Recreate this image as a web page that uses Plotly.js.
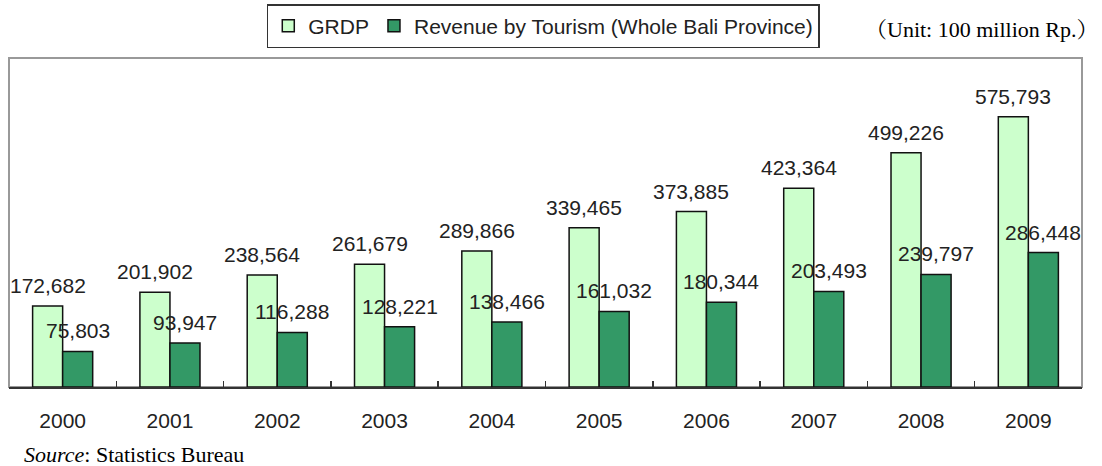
<!DOCTYPE html>
<html>
<head>
<meta charset="utf-8">
<script src="https://cdn.plot.ly/plotly-3.0.1.min.js"></script>
<style>html,body{margin:0;padding:0;background:#fff;}#chart{width:1102px;height:466px;}</style>
</head>
<body>
<div id="chart"></div>
<script>
const years = ["2000","2001","2002","2003","2004","2005","2006","2007","2008","2009"];
const grdp = [172682, 201902, 238564, 261679, 289866, 339465, 373885, 423364, 499226, 575793];
const tourism = [75803, 93947, 116288, 128221, 138466, 161032, 180344, 203493, 239797, 286448];
const seriesNames = ["GRDP", "Revenue by Tourism (Whole Bali Province)"];
const unitText = "（Unit: 100 million Rp.）";
const sourceText = "<i>Source</i>: Statistics Bureau";

const gothic = "Liberation Sans, Arial, sans-serif";
const serif = "Liberation Serif, Times New Roman, Noto Serif CJK JP, serif";

const fmt = v => v.toLocaleString('en-US');

const traces = [
  {type:'bar', name: seriesNames[0], x: years, y: grdp,
   marker:{color:'#ccffcc', line:{color:'#111', width:1.5}}, hoverinfo:'x+y'},
  {type:'bar', name: seriesNames[1], x: years, y: tourism,
   marker:{color:'#339966', line:{color:'#111', width:1.5}}, hoverinfo:'x+y'}
];

const annotations = [];
years.forEach((yr, i) => {
  annotations.push({x: i, y: grdp[i], xref:'x', yref:'y', text: fmt(grdp[i]), showarrow:false,
    xshift:-15, yshift:7, yanchor:'bottom', font:{family:gothic, size:21, color:'#222'}});
  annotations.push({x: i, y: tourism[i], xref:'x', yref:'y', text: fmt(tourism[i]), showarrow:false,
    xshift:15, yshift:7, yanchor:'bottom', font:{family:gothic, size:21, color:'#222'}});
});
annotations.push({xref:'paper', yref:'paper', x:1.0168, y:1.088, xanchor:'right', yanchor:'middle',
  text: unitText, showarrow:false, font:{family:serif, size:22, color:'#000'}});
annotations.push({xref:'paper', yref:'paper', x:0.012, y:-0.205, xanchor:'left', yanchor:'middle',
  text: sourceText, showarrow:false, font:{family:serif, size:22, color:'#000'}});

const layout = {
  width:1102, height:466,
  margin:{l:9, r:20, t:58, b:78.5, pad:0},
  paper_bgcolor:'#fff', plot_bgcolor:'#fff',
  barmode:'group', bargap:0.44, bargroupgap:0,
  showlegend:true,
  legend:{orientation:'h', xref:'container', yref:'container', x:0.493, y:0.991,
    xanchor:'center', yanchor:'top', bordercolor:'#333', borderwidth:1.5, bgcolor:'#fff',
    font:{family:gothic, size:21, color:'#222'}, itemclick:false, itemdoubleclick:false,
    traceorder:'normal'},
  xaxis:{type:'category', categoryorder:'array', categoryarray:years, range:[-0.5, 9.5], autorange:false,
    showgrid:false, zeroline:false, showline:true, linecolor:'#333', linewidth:2, tickangle:0,
    ticks:'inside', tickson:'boundaries', ticklen:6, tickwidth:1.5, tickcolor:'#333',
    ticklabelstandoff:14, tickfont:{family:gothic, size:21, color:'#222'}, fixedrange:true},
  yaxis:{range:[0,701000], autorange:false, showgrid:false, zeroline:false, showline:false, showticklabels:false,
    ticks:'', fixedrange:true},
  shapes:[{type:'rect', xref:'paper', yref:'paper', x0:0, x1:1, y0:0, y1:1,
    line:{color:'#999', width:2}, layer:'below'}],
  annotations: annotations
};

Plotly.newPlot('chart', traces, layout, {displayModeBar:false, staticPlot:true});
</script>
</body>
</html>
